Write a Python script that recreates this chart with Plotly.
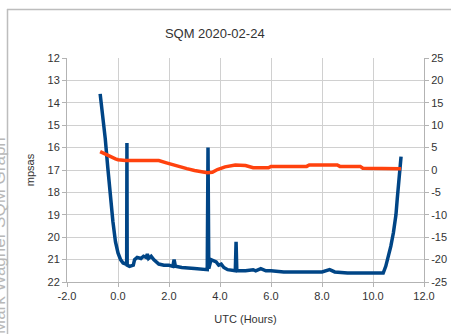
import plotly.graph_objects as go

# Sky brightness (mpsas, left axis)
utc_sqm = [-0.7, -0.6, -0.5, -0.4, -0.3, -0.2, -0.1, 0.0, 0.1, 0.2, 0.3, 0.34, 0.35, 0.36,
           0.45, 0.6, 0.65, 0.75, 0.9, 1.0, 1.1, 1.15, 1.2, 1.3, 1.4, 1.5, 1.6, 1.8, 2.0,
           2.15, 2.2, 2.25, 2.5, 3.0, 3.4, 3.5, 3.53, 3.56, 3.65, 3.75, 3.85, 3.95, 4.05,
           4.15, 4.3, 4.6, 4.63, 4.66, 5.0, 5.3, 5.4, 5.6, 5.8, 6.0, 6.5, 7.0, 7.5, 8.0,
           8.3, 8.5, 9.0, 9.5, 10.0, 10.4, 10.5, 10.6, 10.7, 10.8, 10.9, 10.95, 11.0, 11.05, 11.1]
mpsas = [13.6, 14.5, 15.6, 16.9, 18.2, 19.3, 20.2, 20.7, 21.0, 21.15, 21.2, 21.2, 15.8, 21.25,
         21.3, 21.25, 21.0, 20.9, 20.95, 20.85, 20.9, 20.75, 20.95, 20.85, 21.0, 21.1, 21.2, 21.25, 21.25,
         21.3, 21.0, 21.3, 21.35, 21.4, 21.45, 21.45, 16.0, 21.4, 21.0, 21.05, 21.1, 21.25, 21.2,
         21.35, 21.45, 21.5, 20.2, 21.5, 21.5, 21.45, 21.5, 21.4, 21.5, 21.5, 21.55, 21.55, 21.55, 21.55,
         21.45, 21.55, 21.6, 21.6, 21.6, 21.6, 21.3, 20.9, 20.4, 19.8, 19.0, 18.3, 17.6, 16.9, 16.4]

# Temperature (right axis)
utc_temp = [-0.7, -0.5, -0.3, -0.1, 0.0, 0.3, 0.8, 1.2, 1.6, 1.9, 2.3, 2.7, 3.0, 3.3, 3.5, 3.7,
            3.9, 4.2, 4.6, 5.0, 5.3, 5.9, 6.0, 7.4, 7.5, 8.6, 8.7, 9.5, 9.6, 11.1]
temp = [4.1, 3.5, 2.9, 2.5, 2.3, 2.1, 2.1, 2.1, 2.1, 1.6, 0.9, 0.3, -0.1, -0.5, -0.6, -0.5,
        0.1, 0.7, 1.1, 1.0, 0.5, 0.5, 0.8, 0.8, 1.1, 1.1, 0.8, 0.8, 0.4, 0.3]

# Tick values
x_ticks = [-2, 0, 2, 4, 6, 8, 10, 12]
y_ticks = [12, 13, 14, 15, 16, 17, 18, 19, 20, 21, 22]
y2_ticks = [25, 20, 15, 10, 5, 0, -5, -10, -15, -20, -25]

title_text = "SQM 2020-02-24"
x_title = "UTC (Hours)"
y_title = "mpsas"
watermark = "Mark Wagner SQM Graph"

fig = go.Figure()
fig.add_trace(go.Scatter(x=utc_temp, y=temp, mode="lines", yaxis="y2",
                         line=dict(color="#ff420e", width=3.5), showlegend=False))
fig.add_trace(go.Scatter(x=utc_sqm, y=mpsas, mode="lines", yaxis="y",
                         line=dict(color="#004586", width=3.5), showlegend=False))

L, R, T, B = 67, 27, 58, 52
W, H = 451, 334
pw, ph = W - L - R, H - T - B

def px(x):
    return (x - L) / pw

def py(y):
    return (H - B - y) / ph

grid = "#d0d0d0"
axis = "#b3b3b3"
font = "Liberation Sans, Arial, sans-serif"
border = dict(color="#bdbdbd", width=1.5)

fig.update_layout(
    width=W, height=H,
    margin=dict(l=L, r=R, t=T, b=B, autoexpand=False),
    paper_bgcolor="white", plot_bgcolor="white",
    font=dict(family=font, size=11, color="#333333"),
    title=dict(text=title_text, x=px(237), xanchor="center", y=1 - 33 / H, yanchor="middle",
               font=dict(size=13, color="#333333")),
    xaxis=dict(range=[-2, 12], tickvals=x_ticks, ticktext=[f"{v:.1f}" for v in x_ticks],
               showgrid=True, gridcolor=grid, automargin=False,
               showline=True, linecolor=axis, ticks="outside", tickcolor=axis, ticklen=4,
               zeroline=False, title=dict(text=x_title, font=dict(size=11), standoff=14)),
    yaxis=dict(range=[22, 12], tickvals=y_ticks, ticktext=[str(v) for v in y_ticks],
               showgrid=True, gridcolor=grid, automargin=False,
               showline=True, linecolor=axis, ticks="outside", tickcolor=axis, ticklen=4,
               zeroline=False, title=dict(text=y_title, font=dict(size=11), standoff=10)),
    yaxis2=dict(range=[-25, 25], tickvals=y2_ticks, ticktext=[str(v) for v in y2_ticks],
                overlaying="y", side="right", showgrid=False, automargin=False,
                showline=True, linecolor=axis, ticks="outside", tickcolor=axis, ticklen=4,
                zeroline=False),
    shapes=[
        dict(type="line", xref="paper", yref="paper", x0=px(7), x1=px(451), y0=py(9.5), y1=py(9.5),
             line=border, layer="above"),
        dict(type="line", xref="paper", yref="paper", x0=px(7.5), x1=px(7.5), y0=py(9), y1=py(334),
             line=border, layer="above"),
    ],
    annotations=[dict(text=watermark, xref="paper", yref="paper", x=px(-1), y=py(236),
                      xanchor="center", yanchor="middle", textangle=-90, showarrow=False,
                      font=dict(size=17, color="#b8b8b8", family=font))],
)

fig.write_html("out.html", config={"displayModeBar": False},
               post_script="document.body.style.margin='0';document.body.style.overflow='hidden';")
